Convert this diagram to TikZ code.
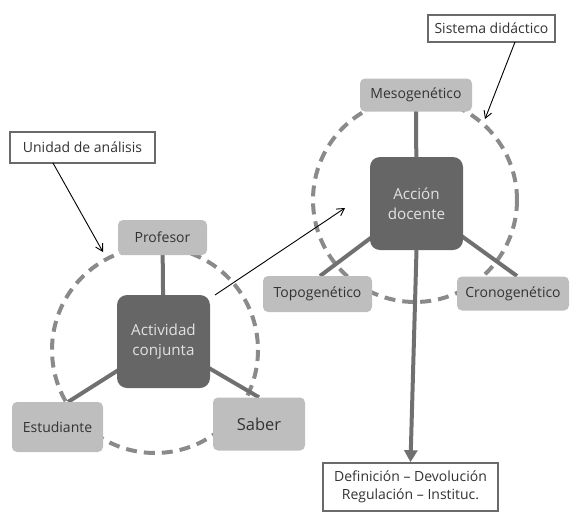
\documentclass[tikz,border=0pt]{standalone}
\usepackage{fontspec}
\setmainfont{Open Sans}
\usetikzlibrary{arrows.meta,backgrounds}
\definecolor{darkbox}{HTML}{666666}
\definecolor{lightbox}{HTML}{BEBEBE}
\definecolor{ringcol}{HTML}{8A8A8A}
\definecolor{linkcol}{HTML}{707070}
\definecolor{txtdark}{HTML}{333333}
\definecolor{txtlight}{HTML}{E2E2E2}
\definecolor{framecol}{HTML}{6A6A6A}
\tikzset{
  darkbox/.style={fill=darkbox, rounded corners=10pt, text=txtlight, minimum width=93pt, minimum height=93pt, align=center, font=\fontsize{15.2}{20}\selectfont, inner sep=0pt},
  lightbox/.style={fill=lightbox, rounded corners=5pt, text=txtdark, align=center, font=\fontsize{14}{17}\selectfont, inner sep=0pt},
  framebox/.style={draw=framecol, line width=1.6pt, fill=white, text=txtdark, align=center, font=\fontsize{14}{18}\selectfont, inner sep=0pt},
  ring/.style={draw=ringcol, line width=4pt, dash pattern=on 11pt off 7pt},
  link/.style={draw=linkcol, line width=4pt},
  callout/.style={draw=black, line width=0.9pt, -{Straight Barb[length=7pt,width=8pt]}},
  bigarrow/.style={draw=linkcol, line width=4pt, -{Triangle[length=12pt,width=13pt]}}
}
\begin{document}
\begin{tikzpicture}[x=1pt,y=-1pt]
\useasboundingbox (0,0) rectangle (571,512);
% left nodes
\node[darkbox] (act) at (163.5,341.5) {Actividad\\conjunta};
\node[lightbox, minimum width=89pt, minimum height=35pt] (prof) at (162.5,237.5) {Profesor};
\node[lightbox, minimum width=91pt, minimum height=50pt] (est) at (57.5,427) {Estudiante};
\node[lightbox, minimum width=92pt, minimum height=53pt, font=\fontsize{16.5}{20}\selectfont] (sab) at (259,424) {Saber};
% right nodes
\node[darkbox] (acc) at (416.5,203.5) {Acción\\docente};
\node[lightbox, minimum width=112pt, minimum height=33pt] (meso) at (416,95) {Mesogenético};
\node[lightbox, minimum width=109pt, minimum height=36pt] (topo) at (317.5,294) {Topogenético};
\node[lightbox, minimum width=112pt, minimum height=34pt] (crono) at (513,293.5) {Cronogenético};
% frames
\node[framebox, minimum width=145pt, minimum height=31pt] (unid) at (82.5,147.5) {Unidad de análisis};
\node[framebox, minimum width=127pt, minimum height=27pt] (sis) at (491.5,28.5) {Sistema didáctico};
\node[framebox, minimum width=175pt, minimum height=48pt] (def) at (410.5,487) {Definición – Devolución\\Regulación – Instituc.};
% coordinates
\coordinate (estT) at (68,402);
\coordinate (topoT) at (320,276);
\coordinate (cronoT) at (517,276);
\coordinate (unidS) at (53,163);
\coordinate (unidE) at (103,252);
\coordinate (sisS) at (515,42);
\coordinate (sisE) at (485,119);
\coordinate (actS) at (215,295);
\coordinate (accE) at (345,208);
\begin{scope}[on background layer]
  \draw[ring] (155,350) circle (103);
  \draw[ring] (415,200) circle (102);
  \draw[link] (act.center) -- (prof.center);
  \draw[link] (act.center) -- (estT);
  \draw[link] (act.center) -- (sab.north);
  \draw[link] (acc.center) -- (meso.center);
  \draw[link] (acc.center) -- (topoT);
  \draw[link] (acc.center) -- (cronoT);
\end{scope}
\draw[bigarrow] (acc.south) -- (def.north);
\draw[callout] (unidS) -- (unidE);
\draw[callout] (sisS) -- (sisE);
\draw[callout] (actS) -- (accE);
\end{tikzpicture}
\end{document}
